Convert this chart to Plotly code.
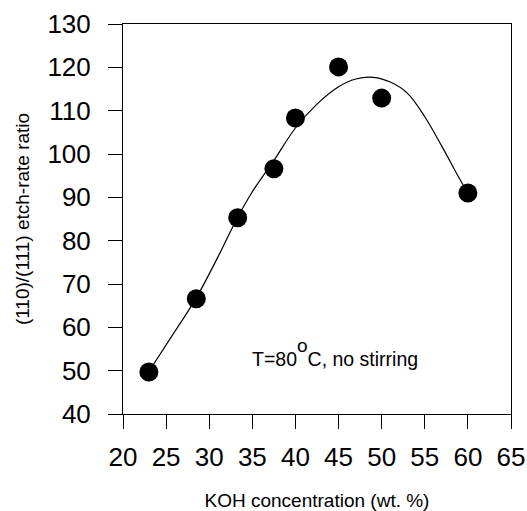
import plotly.graph_objects as go

# measured data points
koh = [23, 28.5, 33.3, 37.5, 40, 45, 50, 60]
ratio = [49.7, 66.6, 85.3, 96.6, 108.3, 120.1, 112.9, 91.0]

# fitted curve
curve_x = [23, 26, 28.5, 31, 33.3, 35, 37.5, 40, 42.5, 45, 47, 49, 51, 53, 55, 57, 59, 60]
curve_y = [49.8, 59.0, 66.8, 76.2, 85.4, 91.3, 98.5, 106.0, 111.5, 115.5, 117.3, 117.7, 116.6, 114.0, 108.6, 101.7, 94.4, 91.0]

x_ticks = [20, 25, 30, 35, 40, 45, 50, 55, 60, 65]
y_ticks = [40, 50, 60, 70, 80, 90, 100, 110, 120, 130]

FONT = "Liberation Sans, Arial, sans-serif"

fig = go.Figure()
fig.add_trace(go.Scatter(x=curve_x, y=curve_y, mode="lines",
                         line=dict(color="black", width=1.2, shape="spline", smoothing=1.0),
                         hoverinfo="skip", showlegend=False))
fig.add_trace(go.Scatter(x=koh, y=ratio, mode="markers",
                         marker=dict(color="black", size=19),
                         showlegend=False))

fig.add_annotation(x=34.77, y=54.3, xref="x", yref="y",
                   text="T=80<sup><sup><span style=\"font-size:19px\">o</span></sup></sup>C, no stirring",
                   showarrow=False,
                   xanchor="left", yanchor="middle",
                   font=dict(family=FONT, size=19.5, color="black"))

axis_common = dict(showgrid=False, zeroline=False, showline=True, linecolor="black",
                   linewidth=1, mirror=True, ticks="outside", ticklen=14,
                   tickcolor="black", tickwidth=1,
                   tickfont=dict(family=FONT, size=26, color="black"))

fig.update_xaxes(range=[20, 65], tickvals=x_ticks, ticktext=[str(v) for v in x_ticks],
                 title=dict(text="KOH concentration (wt. %)",
                            font=dict(family=FONT, size=19, color="black"), standoff=24),
                 ticklabelstandoff=6,
                 **axis_common)
fig.update_yaxes(range=[40, 130], tickvals=y_ticks, ticktext=[str(v) for v in y_ticks],
                 title=dict(text="(110)/(111) etch-rate ratio",
                            font=dict(family=FONT, size=19, color="black"), standoff=12),
                 ticklabelstandoff=12,
                 **axis_common)

fig.update_layout(width=527, height=511,
                  margin=dict(l=123, r=16, t=24, b=97, autoexpand=False),
                  plot_bgcolor="white", paper_bgcolor="white",
                  font=dict(family=FONT, color="black"))

fig.write_html("out.html", config={"displayModeBar": False},
               post_script="document.body.style.margin='0';document.body.style.padding='0';")
